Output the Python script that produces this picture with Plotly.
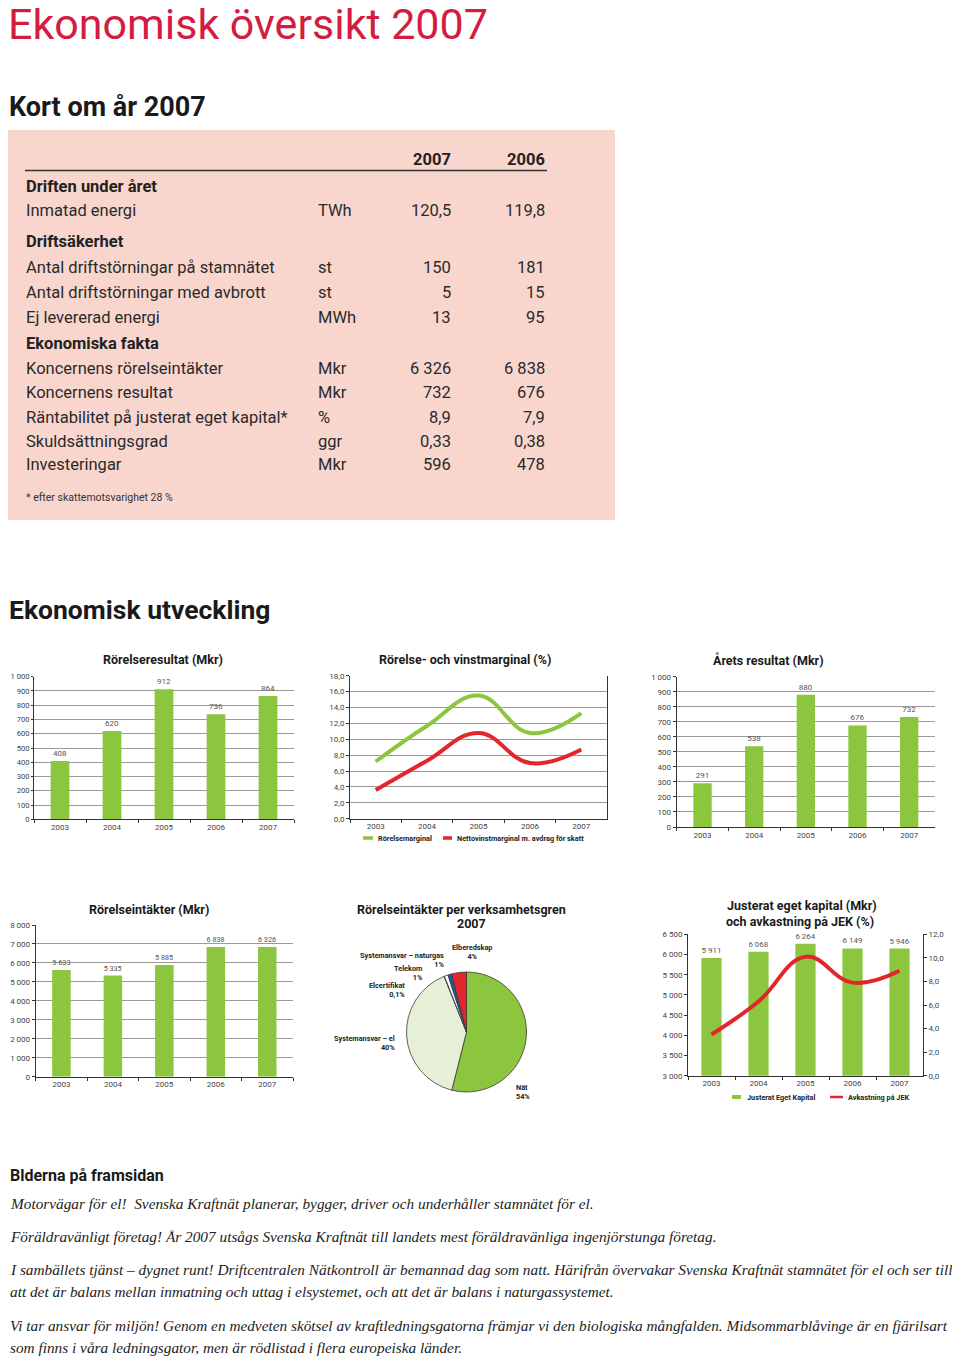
import plotly.graph_objects as go

W, H = 960, 1359
OFF = 8  # the page body adds an 8px margin around the figure


def fx(px):
    return (px - OFF) / W


def fy(py):
    return 1 - (py - OFF) / H


# ---------------- data ----------------
years = ["2003", "2004", "2005", "2006", "2007"]

rorelseresultat = [408, 620, 912, 736, 864]
rorelsemarginal = [7.2, 11.7, 15.5, 10.8, 13.3]
nettovinstmarginal = [3.6, 7.3, 10.8, 7.0, 8.7]
arets_resultat = [291, 538, 880, 676, 732]
rorelseintakter_bars = [5633, 5335, 5885, 6838, 6838]
rorelseintakter_labels = ["5 633", "5 335", "5 885", "6 838", "6 326"]
pie_labels = ["Nät", "Systemansvar – el", "Elcertifikat", "Telekom",
              "Systemansvar – naturgas", "Elberedskap"]
pie_values = [54, 40, 0.1, 1, 1, 4]
pie_pct = ["54%", "40%", "0,1%", "1%", "1%", "4%"]
jek_bars = [5911, 6068, 6264, 6149, 6149]
jek_labels = ["5 911", "6 068", "6 264", "6 149", "5 946"]
avkastning_jek = [3.5, 6.3, 10.1, 7.9, 8.9]

table_cols = ["2007", "2006"]
row_labels = ["Driften under året", "Inmatad energi", "Driftsäkerhet",
              "Antal driftstörningar på stamnätet", "Antal driftstörningar med avbrott",
              "Ej levererad energi", "Ekonomiska fakta", "Koncernens rörelseintäkter",
              "Koncernens resultat", "Räntabilitet på justerat eget kapital*",
              "Skuldsättningsgrad", "Investeringar"]
row_units = ["", "TWh", "", "st", "st", "MWh", "", "Mkr", "Mkr", "%", "ggr", "Mkr"]
row_2007 = ["", "120,5", "", "150", "5", "13", "", "6 326", "732", "8,9", "0,33", "596"]
row_2006 = ["", "119,8", "", "181", "15", "95", "", "6 838", "676", "7,9", "0,38", "478"]
row_is_header = [True, False, True, False, False, False, True, False, False, False, False, False]
footnote = "* efter skattemotsvarighet 28 %"

paragraphs = [
    "Motorvägar för el!  Svenska Kraftnät planerar, bygger, driver och underhåller stamnätet för el.",
    "Föräldravänligt företag! År 2007 utsågs Svenska Kraftnät till landets mest föräldravänliga ingenjörstunga företag.",
    "I sambällets tjänst – dygnet runt! Driftcentralen Nätkontroll är bemannad dag som natt. Härifrån övervakar Svenska Kraftnät stamnätet för el och ser till",
    "att det är balans mellan inmatning och uttag i elsystemet, och att det är balans i naturgassystemet.",
    "Vi tar ansvar för miljön! Genom en medveten skötsel av kraftledningsgatorna främjar vi den biologiska mångfalden. Midsommarblåvinge är en fjärilsart",
    "som finns i våra ledningsgator, men är rödlistad i flera europeiska länder.",
]

# ---------------- styles ----------------
GREEN = "#8cc63f"
RED = "#e2262b"
BLUE = "#1f5aa6"
PALEGREEN = "#e6efd8"
PINK = "#f8d6cd"
TITLE_RED = "#d41c40"
SANS = "Roboto"
TICKF = dict(family=SANS, size=8, color="#444")
LBLF = dict(family=SANS, size=8, color="#555")

fig = go.Figure()
annotations = []
shapes = []


def ann(text, x, y, size=12, bold=False, color="#222", xanchor="left",
        family=SANS, italic=False, align="left", yanchor="middle"):
    f = dict(family=family, size=size, color=color)
    if bold:
        f["weight"] = "bold"
    if italic:
        f["style"] = "italic"
    annotations.append(dict(text=text, x=fx(x), y=fy(y), xref="paper", yref="paper",
                            xanchor=xanchor, yanchor=yanchor, showarrow=False,
                            font=f, align=align))


# ---------------- page headings ----------------
ann("Ekonomisk översikt 2007", 6, 24, size=43, color=TITLE_RED)
ann("Kort om år 2007", 7, 107, size=27, bold=True, color="#1a1a1a")
ann("Ekonomisk utveckling", 7, 609, size=26.5, bold=True, color="#1a1a1a")

# ---------------- table box ----------------
shapes.append(dict(type="rect", xref="paper", yref="paper", x0=fx(8), x1=fx(615),
                   y0=fy(130), y1=fy(520), fillcolor=PINK, line=dict(width=0), layer="below"))
shapes.append(dict(type="line", xref="paper", yref="paper", x0=fx(25), x1=fx(547),
                   y0=fy(170.5), y1=fy(170.5), line=dict(color="#333", width=1.5)))
ann(table_cols[0], 453, 160, size=16.5, bold=True, xanchor="right")
ann(table_cols[1], 547, 160, size=16.5, bold=True, xanchor="right")
row_y = [187, 211, 241, 268, 292, 317, 343, 368, 392, 417, 441, 465]
for i, lab in enumerate(row_labels):
    y = row_y[i]
    if row_is_header[i]:
        ann(lab, 24, y, size=16.5, bold=True)
    else:
        ann(lab, 24, y, size=16.5, color="#2a2a2a")
        ann(row_units[i], 316, y, size=16.5, color="#2a2a2a")
        ann(row_2007[i], 453, y, size=16.5, color="#2a2a2a", xanchor="right")
        ann(row_2006[i], 547, y, size=16.5, color="#2a2a2a", xanchor="right")
ann(footnote, 24, 497, size=10.5, color="#333")


# ---------------- axis helpers ----------------
def cat_axis(x0, x1, anchor):
    return dict(domain=[fx(x0), fx(x1)], anchor=anchor, type="category",
                range=[-0.5, 4.5], automargin=False,
                showline=True, linecolor="#333", linewidth=1, ticks="outside",
                tickson="boundaries", ticklen=3, tickcolor="#333",
                tickfont=TICKF, showgrid=False, zeroline=False, fixedrange=True)


def val_axis(y_bottom, y_top, anchor, rng, dtick, fmt=None, grid=True, mirror=False,
             ticklen=3, font=TICKF):
    d = dict(domain=[fy(y_bottom), fy(y_top)], anchor=anchor, range=rng, dtick=dtick,
             automargin=False,
             showline=True, linecolor="#333", linewidth=1, ticks="outside", ticklen=ticklen,
             tickcolor="#333", tickfont=font, showgrid=grid, gridcolor="#9a9a9a",
             gridwidth=1, zeroline=False, separatethousands=True, fixedrange=True)
    if fmt:
        d["tickformat"] = fmt
    if mirror:
        d["mirror"] = True
    return d


def title(text, x, y, xanchor="center"):
    ann(text, x, y, size=12.5, bold=True, color="#1a1a1a", xanchor=xanchor)


# ---------------- chart 1: Rörelseresultat ----------------
fig.add_trace(go.Bar(x=years, y=rorelseresultat, xaxis="x", yaxis="y", width=0.36,
                     marker=dict(color=GREEN, line=dict(width=0)),
                     text=[f"{v}" for v in rorelseresultat],
                     textposition="outside", textfont=LBLF, cliponaxis=False))
title("Rörelseresultat (Mkr)", 163, 659)

# ---------------- chart 2: marginaler ----------------
fig.add_trace(go.Scatter(x=years, y=rorelsemarginal, xaxis="x2", yaxis="y2", mode="lines",
                         line=dict(color=GREEN, width=4, shape="spline", smoothing=1.2)))
fig.add_trace(go.Scatter(x=years, y=nettovinstmarginal, xaxis="x2", yaxis="y2", mode="lines",
                         line=dict(color=RED, width=4, shape="spline", smoothing=1.2)))
title("Rörelse- och vinstmarginal (%)", 465, 660)
shapes.append(dict(type="line", xref="paper", yref="paper", x0=fx(363), x1=fx(373),
                   y0=fy(838), y1=fy(838), line=dict(color=GREEN, width=3.5)))
ann("Rörelsemarginal", 376, 838, size=7.3, bold=True)
shapes.append(dict(type="line", xref="paper", yref="paper", x0=fx(443), x1=fx(452),
                   y0=fy(838), y1=fy(838), line=dict(color=RED, width=3.5)))
ann("Nettovinstmarginal m. avdrag för skatt", 455, 838, size=7.3, bold=True)

# ---------------- chart 3: Årets resultat ----------------
fig.add_trace(go.Bar(x=years, y=arets_resultat, xaxis="x3", yaxis="y3", width=0.355,
                     marker=dict(color=GREEN, line=dict(width=0)),
                     text=[f"{v}" for v in arets_resultat],
                     textposition="outside", textfont=LBLF, cliponaxis=False))
title("Årets resultat (Mkr)", 768, 660)

# ---------------- chart 4: Rörelseintäkter ----------------
fig.add_trace(go.Bar(x=years, y=rorelseintakter_bars, xaxis="x4", yaxis="y4", width=0.36,
                     marker=dict(color=GREEN, line=dict(width=0)), text=rorelseintakter_labels,
                     textposition="outside", textfont=LBLF, cliponaxis=False))
title("Rörelseintäkter (Mkr)", 149, 909)

# ---------------- chart 5: pie ----------------
fig.add_trace(go.Pie(labels=pie_labels, values=pie_values, sort=False, direction="clockwise",
                     rotation=0, textinfo="none", hoverinfo="label+percent",
                     marker=dict(colors=[GREEN, PALEGREEN, "#ffffff", "#ffffff", BLUE, RED],
                                 line=dict(color="#3a3a3a", width=0.8)),
                     domain=dict(x=[fx(406.5), fx(526.5)], y=[fy(1092), fy(972)]),
                     showlegend=False))
title("Rörelseintäkter per verksamhetsgren", 461, 909)
title("2007", 471, 923)
pie_label_pos = [  # (x, y, anchor) for each slice label
    (514, 1092, "left"), (397, 1043, "right"), (407, 990, "right"),
    (425, 973, "right"), (446, 960, "right"), (472, 952, "center"),
]
for i, (px_, py_, anc) in enumerate(pie_label_pos):
    ann(f"{pie_labels[i]}<br>{pie_pct[i]}", px_, py_, size=7.3, bold=True,
        xanchor=anc, align=anc)

# ---------------- chart 6: JEK ----------------
fig.add_trace(go.Bar(x=years, y=jek_bars, xaxis="x5", yaxis="y5", width=0.43,
                     marker=dict(color=GREEN, line=dict(width=0)), text=jek_labels,
                     textposition="outside", textfont=LBLF, cliponaxis=False))
fig.add_trace(go.Scatter(x=years, y=avkastning_jek, xaxis="x5", yaxis="y6", mode="lines",
                         line=dict(color=RED, width=4, shape="spline", smoothing=1.2)))
title("Justerat eget kapital (Mkr)", 725, 905, xanchor="left")
title("och avkastning på JEK (%)", 724, 921, xanchor="left")
shapes.append(dict(type="line", xref="paper", yref="paper", x0=fx(732), x1=fx(741),
                   y0=fy(1097), y1=fy(1097), line=dict(color=GREEN, width=4)))
ann("Justerat Eget Kapital", 745, 1097, size=7.3, bold=True)
shapes.append(dict(type="line", xref="paper", yref="paper", x0=fx(830), x1=fx(843),
                   y0=fy(1097), y1=fy(1097), line=dict(color=RED, width=2.5)))
ann("Avkastning på JEK", 846, 1097, size=7.3, bold=True)

# ---------------- bottom text ----------------
ann("Blderna på framsidan", 8, 1175, size=16, bold=True, color="#1a1a1a")
para_y = [1203, 1236, 1269, 1291, 1325, 1347]
for t, y in zip(paragraphs, para_y):
    ann(t, 8, y, size=15.3, italic=True, family="Liberation Serif", color="#222")

layout = dict(
    template="none",
    width=W, height=H, margin=dict(l=0, r=0, t=0, b=0, pad=0, autoexpand=False),
    paper_bgcolor="white", plot_bgcolor="white", showlegend=False,
    separators=", ", font=dict(family=SANS),
    xaxis=cat_axis(34, 294, "y"),
    yaxis=val_axis(819.3, 676.7, "x", [0, 1000], 100, ticklen=2,
                   font=dict(family=SANS, size=7.6, color="#444")),
    xaxis2=cat_axis(350, 607, "y2"),
    yaxis2=val_axis(818.7, 675.7, "x2", [0, 18], 2, fmt=".1f", mirror=True),
    xaxis3=cat_axis(676.7, 935, "y3"),
    yaxis3=val_axis(827, 676.7, "x3", [0, 1000], 100),
    xaxis4=cat_axis(35.7, 293, "y4"),
    yaxis4=val_axis(1076.7, 925, "x4", [0, 8000], 1000),
    xaxis5=cat_axis(688, 923, "y5"),
    yaxis5=val_axis(1075.7, 934.3, "x5", [3000, 6500], 500, grid=False),
    yaxis6=dict(overlaying="y5", side="right", anchor="x5", range=[0, 12], dtick=2,
                tickformat=".1f", showline=True, linecolor="#333", linewidth=1,
                ticks="outside", ticklen=3, tickcolor="#333", tickfont=TICKF,
                showgrid=False, zeroline=False, fixedrange=True, automargin=False),
    annotations=annotations, shapes=shapes,
)
fig.update_layout(**layout)
fig.write_html("out.html")
